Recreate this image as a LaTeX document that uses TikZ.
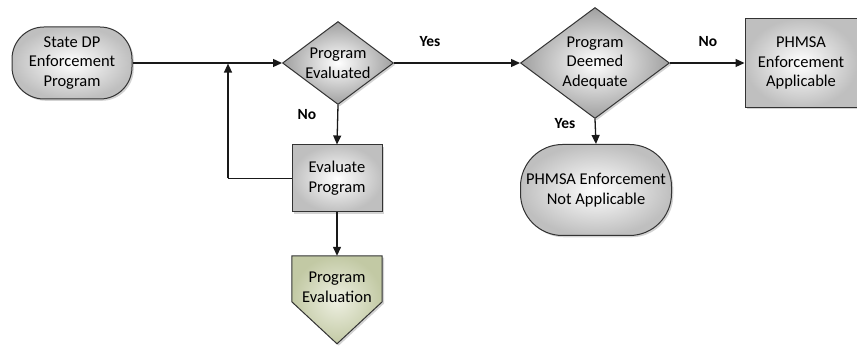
\documentclass[tikz,border=0pt]{standalone}
\usepackage{fontspec}
\setmainfont{Carlito}
\usetikzlibrary{shapes.geometric,shadows,arrows.meta,calc}
\definecolor{pegreen}{HTML}{C2C9A4}
\definecolor{pelight}{HTML}{EEF0E2}
\tikzset{
  base/.style={draw=black!80, line width=1pt, drop shadow={shadow xshift=1.8pt, shadow yshift=-1.8pt, opacity=0.35}},
  term/.style={base, inner color=white, outer color=gray!50, align=center},
  procbox/.style={base, inner color=white, outer color=gray!50, align=center},
  decision/.style={base, diamond, inner sep=0pt, inner color=white, outer color=gray!75},
  lbl/.style={font=\fontsize{15.5}{18}\selectfont\bfseries},
  conn/.style={line width=1.3pt, draw=black!90, -{Triangle[length=9pt,width=8pt]}},
  plain/.style={line width=1.3pt, draw=black!90},
}
\begin{document}
\begin{tikzpicture}[x=1pt, y=-1pt, font=\fontsize{16.5}{19.8}\selectfont]
\useasboundingbox (0,0) rectangle (857,347);

% nodes
\node[term, rounded corners=32pt, minimum width=120pt, minimum height=72pt] (start) at (72,63) {State DP\\Enforcement\\Program};
\node[decision, minimum width=111pt, minimum height=83pt,
      label={[align=center]center:Program\\Evaluated}] (d1) at (338,63) {};
\node[decision, minimum width=149pt, minimum height=111pt,
      label={[align=center]center:Program\\Deemed\\Adequate}] (d2) at (595,63) {};
\node[procbox, minimum width=90pt, minimum height=67pt] (eval) at (337,178.5) {Evaluate\\Program};
\node[procbox, minimum width=112pt, minimum height=89pt] (appl) at (801,63) {PHMSA\\Enforcement\\Applicable};
\node[term, rounded corners=42pt, minimum width=151pt, minimum height=91pt] (notappl) at (596,190) {PHMSA Enforcement\\Not Applicable};

% off-page connector
\node[align=center, minimum width=90pt, minimum height=62pt, inner sep=0pt] (pe) at (337,287) {\phantom{Program}};
\path[base, inner color=pelight, outer color=pegreen]
  (pe.north west) -- (pe.north east) -- ($(pe.north east)+(0,46)$) -- ($(pe.north)+(0,88)$)
  -- ($(pe.north west)+(0,46)$) -- cycle;
\node[align=center] (petext) at (pe.center) {Program\\Evaluation};

% junction
\coordinate (junc) at (228,63);
\coordinate (loop) at (228,178.5);

% connectors
\draw[conn] (start.east) -- (d1.west);
\draw[conn] (d1.south) -- (eval.north);
\draw[conn] (eval.south) -- (pe.north);
\draw[plain] (eval.west) -- (loop);
\draw[conn] (loop) -- ($(junc)+(0,0.6)$);
\draw[conn] (d1.east) -- (d2.west);
\draw[conn] (d2.east) -- (appl.west);
\draw[conn] (d2.south) -- (notappl.north);

% labels
\node[lbl] (lno1) at (307,115) {No};
\node[lbl] (lyes1) at (430,42) {Yes};
\node[lbl] (lno2) at (708,42) {No};
\node[lbl] (lyes2) at (565,124) {Yes};
\end{tikzpicture}
\end{document}
